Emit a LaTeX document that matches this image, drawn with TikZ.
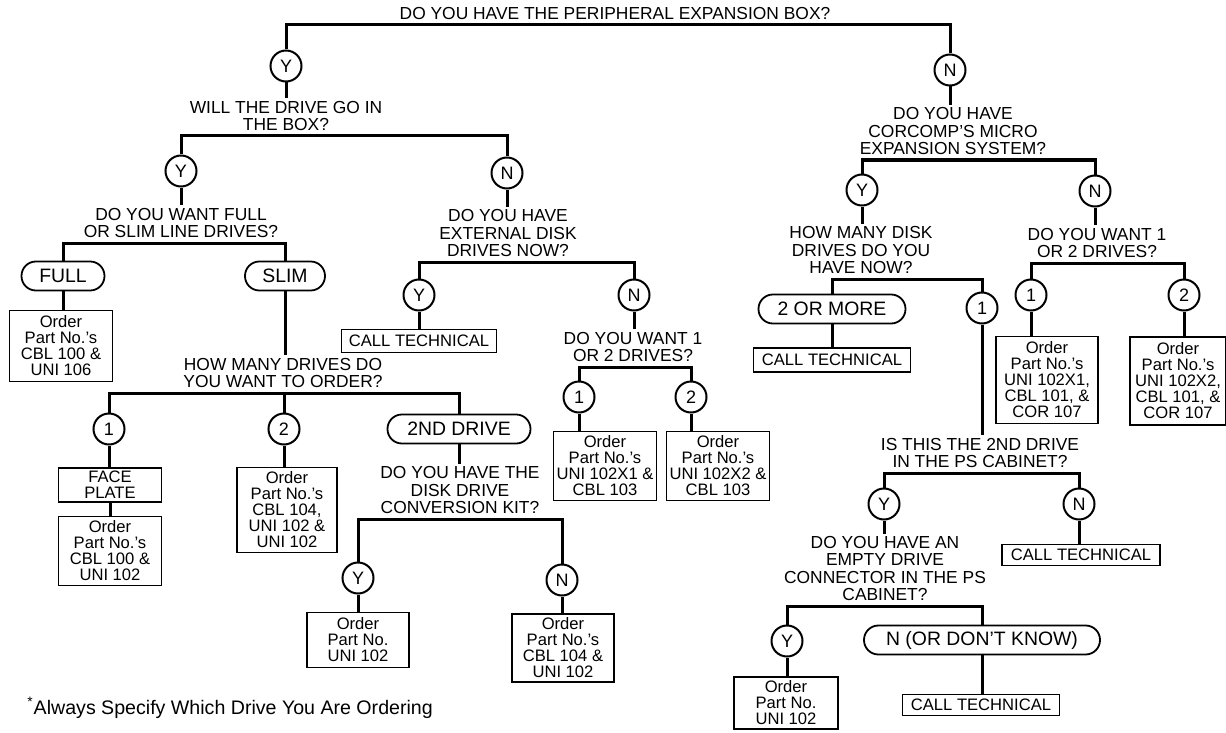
\documentclass[tikz,border=0pt]{standalone}
\usepackage{fontspec}
\setmainfont{Liberation Sans}
\begin{document}
\begin{tikzpicture}[x=0.5pt,y=-0.5pt,
  conn/.style={line width=1.5pt,line join=miter},
  yn/.style={draw,circle,line width=1pt,minimum size=15.5pt,inner sep=0pt,font=\fontsize{9}{9}\selectfont},
  pill/.style={draw,rounded corners=7.2pt,line width=0.9pt,minimum height=14.5pt,inner sep=0pt,font=\fontsize{9.7}{10}\selectfont},
  obox/.style={draw,line width=0.7pt,align=center,inner sep=0pt,font=\fontsize{8.3}{8}\selectfont},
  qtext/.style={align=center,anchor=south,inner sep=1pt,font=\fontsize{8.7}{8.7}\selectfont}]
\useasboundingbox (0,0) rectangle (1226,733);
% top
\node[qtext] (q1) at (615,22) {DO YOU HAVE THE PERIPHERAL EXPANSION BOX?};
\coordinate (bar1) at (0,25);
\node[yn] (cY1) at (286,66) {Y};
\node[yn] (cN1) at (950,70) {N};
% left branch
\node[qtext] (q2) at (286,133) {WILL THE DRIVE GO IN\\THE BOX?};
\coordinate (bar2) at (0,136);
\node[yn] (cY2) at (181,171) {Y};
\node[yn] (cN2) at (507,173) {N};
\node[qtext] (q3) at (181,240) {DO YOU WANT FULL\\OR SLIM LINE DRIVES?};
\coordinate (bar3) at (0,243);
\node[pill,minimum width=41.5pt] (pFull) at (63,276) {FULL};
\node[pill,minimum width=40pt] (pSlim) at (285,276) {SLIM};
\node[obox,minimum width=51.5pt,minimum height=35.5pt] (b1) at (61,346) {Order\\Part No.'s\\CBL 100 \&\\UNI 106};
\node[qtext] (q4) at (283,390) {HOW MANY DRIVES DO\\YOU WANT TO ORDER?};
\coordinate (bar4) at (0,393);
\node[yn] (c1a) at (109,429) {1};
\node[yn] (c2a) at (284,429) {2};
\node[pill,minimum width=71.5pt] (p2nd) at (459,429) {2ND DRIVE};
\node[obox,minimum width=51.5pt,minimum height=17pt] (bFace) at (110,485) {FACE\\PLATE};
\node[obox,minimum width=51.5pt,minimum height=34.5pt] (b2) at (110,551) {Order\\Part No.'s\\CBL 100 \&\\UNI 102};
\node[obox,minimum width=50pt,minimum height=42.5pt] (b3) at (287,510) {Order\\Part No.'s\\CBL 104,\\UNI 102 \&\\UNI 102};
\node[qtext] (q5) at (460,516) {DO YOU HAVE THE\\DISK DRIVE\\CONVERSION KIT?};
\coordinate (bar5) at (0,519);
\node[yn] (cY3) at (358,578) {Y};
\node[yn] (cN3) at (562,580) {N};
\node[obox,minimum width=51pt,minimum height=27.5pt] (b4) at (358,640) {Order\\Part No.\\UNI 102};
\node[obox,minimum width=51pt,minimum height=34pt] (b5) at (563,648) {Order\\Part No.'s\\CBL 104 \&\\UNI 102};
% middle branch
\node[qtext] (q6) at (508,259) {DO YOU HAVE\\EXTERNAL DISK\\DRIVES NOW?};
\coordinate (bar6) at (0,262);
\node[yn] (cY4) at (419,295) {Y};
\node[yn] (cN4) at (634,295) {N};
\node[obox,minimum width=77.5pt,minimum height=11.5pt] (ct1) at (419,341) {CALL TECHNICAL};
\node[qtext] (q7) at (633,364) {DO YOU WANT 1\\OR 2 DRIVES?};
\coordinate (bar7) at (0,367);
\node[yn] (c1b) at (579,397) {1};
\node[yn] (c2b) at (691,397) {2};
\node[obox,minimum width=51.5pt,minimum height=34.5pt] (b6) at (605,466) {Order\\Part No.'s\\UNI 102X1 \&\\CBL 103};
\node[obox,minimum width=51.5pt,minimum height=34.5pt] (b7) at (718,466) {Order\\Part No.'s\\UNI 102X2 \&\\CBL 103};
% right branch
\node[qtext] (q8) at (953,157) {DO YOU HAVE\\CORCOMP'S MICRO\\EXPANSION SYSTEM?};
\coordinate (bar8) at (0,160);
\node[yn] (cY5) at (862,190) {Y};
\node[yn] (cN5) at (1095,191) {N};
\node[qtext] (q9) at (861,276) {HOW MANY DISK\\DRIVES DO YOU\\HAVE NOW?};
\coordinate (bar9) at (0,279);
\node[pill,minimum width=73.5pt] (p2more) at (832,309) {2 OR MORE};
\node[yn] (c1c) at (982,308) {1};
\node[obox,minimum width=78.5pt,minimum height=12pt] (ct2) at (832,360) {CALL TECHNICAL};
\node[qtext] (q10) at (1097,260) {DO YOU WANT 1\\OR 2 DRIVES?};
\coordinate (bar10) at (0,263);
\node[yn] (c1d) at (1031,295) {1};
\node[yn] (c2d) at (1184,295) {2};
\node[obox,minimum width=51pt,minimum height=43.5pt] (b8) at (1047,380) {Order\\Part No.'s\\UNI 102X1,\\CBL 101, \&\\COR 107};
\node[obox,minimum width=48pt,minimum height=44pt] (b9) at (1178,381) {Order\\Part No.'s\\UNI 102X2,\\CBL 101, \&\\COR 107};
\node[qtext] (q11) at (980,470) {IS THIS THE 2ND DRIVE\\IN THE PS CABINET?};
\coordinate (bar11) at (0,473);
\node[yn] (cY6) at (884,504) {Y};
\node[yn] (cN6) at (1079,504) {N};
\node[obox,minimum width=79pt,minimum height=10.5pt] (ct3) at (1081,555) {CALL TECHNICAL};
\node[qtext] (q12) at (885,603) {DO YOU HAVE AN\\EMPTY DRIVE\\CONNECTOR IN THE PS\\CABINET?};
\coordinate (bar12) at (0,606);
\node[yn] (cY7) at (787,641) {Y};
\node[pill,minimum width=118pt] (pNo) at (982,640) {N (OR DON'T KNOW)};
\node[obox,minimum width=52pt,minimum height=26pt] (b10) at (786,703) {Order\\Part No.\\UNI 102};
\node[obox,minimum width=78.5pt,minimum height=10.5pt] (ct4) at (981,705) {CALL TECHNICAL};
% footnote
\node[anchor=base west,inner sep=0pt,font=\fontsize{9.8}{10}\selectfont] (fn) at (27,714) {\textsuperscript{*}Always Specify Which Drive You Are Ordering};
% connectors
\draw[conn] (cY1) -- (cY1 |- bar1) -- (cN1 |- bar1) -- (cN1);
\draw[conn] (cY1) -- (cY1 |- q2.north);
\draw[conn] (cY2) -- (cY2 |- bar2) -- (cN2 |- bar2) -- (cN2);
\draw[conn] (cY2) -- (cY2 |- q3.north);
\draw[conn] (pFull) -- (pFull |- bar3) -- (pSlim |- bar3) -- (pSlim);
\draw[conn] (pFull) -- (pFull |- b1.north);
\draw[conn] (pSlim) -- (pSlim |- q4.north);
\draw[conn] (c1a) -- (c1a |- bar4) -- (p2nd |- bar4) -- (p2nd);
\draw[conn] (c2a) -- (c2a |- bar4);
\draw[conn] (c1a) -- (c1a |- bFace.north);
\draw[conn] (bFace) -- (b2);
\draw[conn] (c2a) -- (c2a |- b3.north);
\draw[conn] (p2nd) -- (p2nd |- q5.north);
\draw[conn] (cY3) -- (cY3 |- bar5) -- (cN3 |- bar5) -- (cN3);
\draw[conn] (cY3) -- (cY3 |- b4.north);
\draw[conn] (cN3) -- (cN3 |- b5.north);
\draw[conn] (cN2) -- (cN2 |- q6.north);
\draw[conn] (cY4) -- (cY4 |- bar6) -- (cN4 |- bar6) -- (cN4);
\draw[conn] (cY4) -- (cY4 |- ct1.north);
\draw[conn] (cN4) -- (cN4 |- q7.north);
\draw[conn] (c1b) -- (c1b |- bar7) -- (c2b |- bar7) -- (c2b);
\draw[conn] (c1b) -- (c1b |- b6.north);
\draw[conn] (c2b) -- (c2b |- b7.north);
\draw[conn] (cN1) -- (cN1 |- q8.north);
\draw[conn] (cY5) -- (cY5 |- bar8) -- (cN5 |- bar8) -- (cN5);
\draw[conn] (cY5) -- (cY5 |- q9.north);
\draw[conn] (cN5) -- (cN5 |- q10.north);
\draw[conn] (p2more) -- (p2more |- bar9) -- (c1c |- bar9) -- (c1c);
\draw[conn] (p2more) -- (p2more |- ct2.north);
\draw[conn] (c1c) -- (c1c |- q11.north);
\draw[conn] (c1d) -- (c1d |- bar10) -- (c2d |- bar10) -- (c2d);
\draw[conn] (c1d) -- (c1d |- b8.north);
\draw[conn] (c2d) -- (c2d |- b9.north);
\draw[conn] (cY6) -- (cY6 |- bar11) -- (cN6 |- bar11) -- (cN6);
\draw[conn] (cY6) -- (cY6 |- q12.north);
\draw[conn] (cN6) -- (cN6 |- ct3.north);
\draw[conn] (cY7) -- (cY7 |- bar12) -- (pNo |- bar12) -- (pNo);
\draw[conn] (cY7) -- (cY7 |- b10.north);
\draw[conn] (pNo) -- (pNo |- ct4.north);
\end{tikzpicture}
\end{document}
